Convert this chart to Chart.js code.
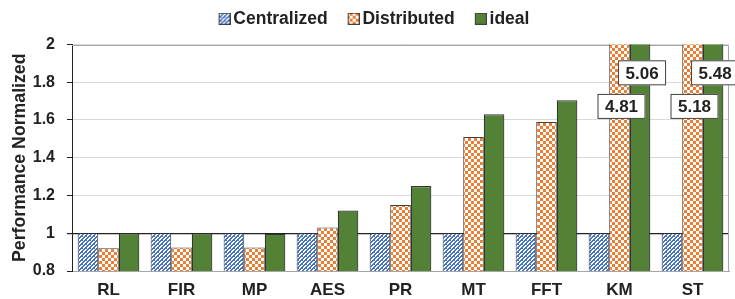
<!DOCTYPE html>
<html>
<head>
<meta charset="utf-8">
<script src="https://cdn.jsdelivr.net/npm/chart.js@4/dist/chart.umd.min.js"></script>
<style>
  body { margin: 0; background: #fff; }
  #wrap { width: 735px; height: 299px; }
</style>
</head>
<body>
<div id="wrap"><canvas id="mycanvas" width="735" height="299"></canvas></div>
<script>
var categories = ['RL', 'FIR', 'MP', 'AES', 'PR', 'MT', 'FFT', 'KM', 'ST'];
var centralized = [1, 1, 1, 1, 1, 1, 1, 1, 1];
var distributed = [0.92, 0.925, 0.925, 1.03, 1.15, 1.51, 1.59, 4.81, 5.18];
var ideal = [1, 1, 0.997, 1.12, 1.25, 1.63, 1.705, 5.06, 5.48];
var yTicks = [0.8, 1, 1.2, 1.4, 1.6, 1.8, 2];

// patterns
function makePattern(kind) {
  var c = document.createElement('canvas');
  var g = c.getContext('2d');
  if (kind == 'check') {
    c.width = 6; c.height = 6;
    g.fillStyle = '#fff'; g.fillRect(0, 0, 6, 6);
    g.fillStyle = '#ED7D31';
    g.fillRect(0, 0, 3, 3); g.fillRect(3, 3, 3, 3);
  } else {
    c.width = 4; c.height = 4;
    g.fillStyle = '#fff'; g.fillRect(0, 0, 4, 4);
    g.fillStyle = '#4472C4';
    for (var px = 0; px < 4; px++) {
      for (var py = 0; py < 4; py++) {
        if ((px + py) % 4 < 2 || (px == 2 && py == 0)) g.fillRect(px, py, 1, 1);
      }
    }
  }
  return g.createPattern(c, 'repeat');
}

var pats = [makePattern('blue'), makePattern('check'), '#538135'];

// legend swatch: 12px box at the right end of a wider transparent image,
// so the box sits close to its text with a wider gap between items
function legendSwatch(fill) {
  var c = document.createElement('canvas');
  c.width = 28; c.height = 12;
  var g = c.getContext('2d');
  g.fillStyle = fill;
  g.fillRect(16, 0, 12, 12);
  g.strokeStyle = '#404040';
  g.lineWidth = 1;
  g.strokeRect(16.5, 0.5, 11, 11);
  return c;
}

var font = "'Liberation Sans', Arial, sans-serif";

// gray frame round the plot area
var plotFrame = {
  id: 'plotFrame',
  beforeDatasetsDraw: function(chart) {
    var a = chart.chartArea, ctx = chart.ctx;
    ctx.save();
    ctx.strokeStyle = '#a6a6a6';
    ctx.lineWidth = 1;
    ctx.beginPath();
    ctx.moveTo(a.left, Math.round(a.top) + 0.5);
    ctx.lineTo(Math.round(a.right) - 0.5, Math.round(a.top) + 0.5);
    ctx.lineTo(Math.round(a.right) - 0.5, a.bottom);
    ctx.stroke();
    ctx.restore();
  }
};

var boxLabels = {
  id: 'boxLabels',
  afterDatasetsDraw: function(chart) {
    var ctx = chart.ctx;
    var y = chart.scales.y;
    var items = [
      {ds: 1, idx: 7, v: 1.672}, {ds: 2, idx: 7, v: 1.85},
      {ds: 1, idx: 8, v: 1.672}, {ds: 2, idx: 8, v: 1.85}
    ];
    ctx.save();
    ctx.font = 'bold 17px ' + font;
    ctx.textAlign = 'center';
    ctx.textBaseline = 'middle';
    items.forEach(function(it) {
      var bar = chart.getDatasetMeta(it.ds).data[it.idx];
      var val = chart.data.datasets[it.ds].data[it.idx];
      var cx = bar.x + 2, cy = y.getPixelForValue(it.v);
      ctx.fillStyle = '#fff';
      ctx.fillRect(cx - 24, cy - 12.5, 48, 25);
      ctx.strokeStyle = '#404040';
      ctx.lineWidth = 1;
      ctx.strokeRect(cx - 24 + 0.5, cy - 12.5 + 0.5, 47, 24);
      ctx.fillStyle = '#222';
      ctx.fillText(val.toFixed(2), cx, cy + 1);
    });
    ctx.restore();
  }
};

var ctx = document.getElementById('mycanvas');
var chart = new Chart(ctx, {
  type: 'bar',
  data: {
    labels: categories,
    datasets: [
      { label: 'Centralized', data: centralized, backgroundColor: pats[0], borderColor: '#404040', borderWidth: 1 },
      { label: 'Distributed', data: distributed, backgroundColor: pats[1], borderColor: '#404040', borderWidth: 1 },
      { label: 'ideal', data: ideal, backgroundColor: pats[2], borderColor: '#333', borderWidth: 1.2 }
    ]
  },
  options: {
    responsive: false,
    animation: false,
    layout: { padding: { top: 0, right: 6, left: 9, bottom: 0 } },
    datasets: { bar: { categoryPercentage: 0.845, barPercentage: 1 } },
    plugins: {
      tooltip: { enabled: false },
      // empty title used only as a spacer between legend and plot
      title: { display: true, text: ' ', weight: 500, padding: 0, font: { size: 7, lineHeight: 1 } },
      legend: {
        position: 'top',
        labels: {
          usePointStyle: true, pointStyleWidth: 16,
          boxWidth: 12, boxHeight: 12, padding: 10,
          color: '#222',
          font: { family: font, size: 17.5, weight: 'bold' },
          generateLabels: function(chart) {
            var items = Chart.defaults.plugins.legend.labels.generateLabels(chart);
            items.forEach(function(it, i) { it.pointStyle = legendSwatch(pats[i]); });
            return items;
          }
        }
      }
    },
    scales: {
      x: {
        afterFit: function(s) { s.height = 28; },
        grid: { display: false, drawTicks: false },
        border: { color: '#a6a6a6', width: 1 },
        ticks: { color: '#222', padding: 11, font: { family: font, size: 17, weight: 'bold', lineHeight: 1 } }
      },
      y: {
        min: 0.8, max: 2,
        afterBuildTicks: function(s) { s.ticks = yTicks.map(function(v) { return {value: v}; }); },
        afterFit: function(s) { s.width = 63; },
        grid: {
          color: function(c) { return c.tick && c.tick.value == 1 ? '#222' : '#d9d9d9'; },
          lineWidth: function(c) { return c.tick && c.tick.value == 1 ? 1.2 : 1; },
          tickColor: '#222',
          tickLength: 5
        },
        border: { color: '#222', width: 1 },
        title: { display: true, text: 'Performance Normalized', color: '#222', padding: 0, font: { family: font, size: 17.7, weight: 'bold' } },
        ticks: {
          color: '#222', padding: 12,
          font: { family: font, size: 16, weight: 'bold' },
          callback: function(v) { return String(Number(v.toFixed(1))); }
        }
      }
    }
  },
  plugins: [plotFrame, boxLabels]
});
</script>
</body>
</html>
